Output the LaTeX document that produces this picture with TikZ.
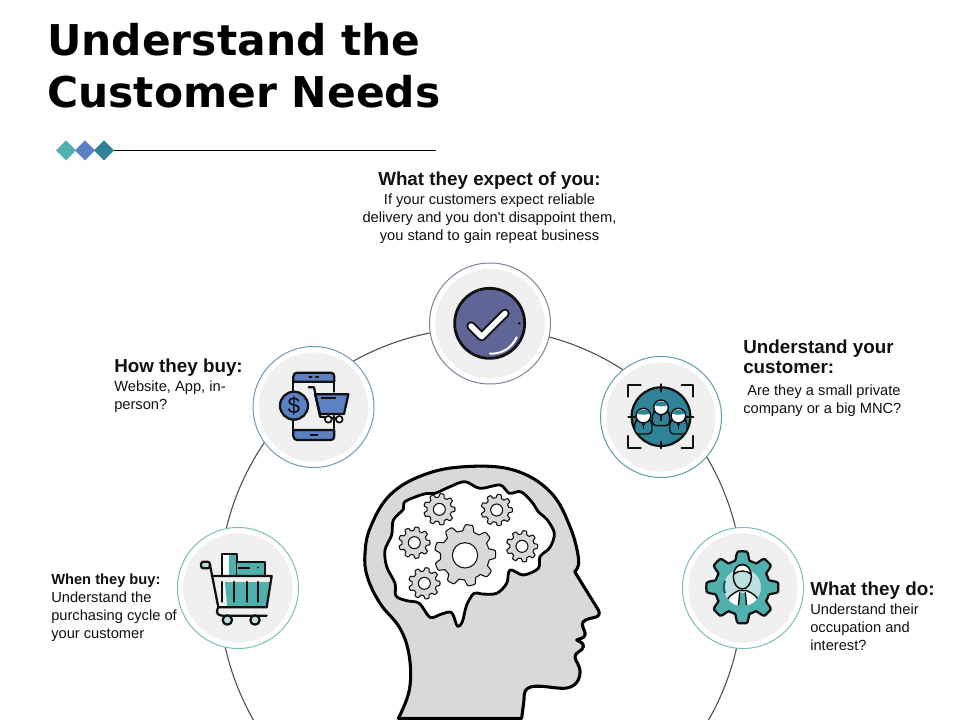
\documentclass[tikz,border=0pt]{standalone}
\usepackage{fontspec}
\setmainfont{Liberation Sans}
\newfontfamily\titlefont{DejaVu Sans}
\definecolor{ink}{HTML}{111111}
\definecolor{teal1}{HTML}{4FB0AE}
\definecolor{teal2}{HTML}{2E8399}
\definecolor{blue1}{HTML}{5B80C4}
\definecolor{navy1}{HTML}{5F6596}
\definecolor{disc}{HTML}{F0F0F0}
\definecolor{headgray}{HTML}{D9D9D9}
\definecolor{paleteal}{HTML}{BFE0E0}
\definecolor{ringA}{HTML}{7F8299}
\definecolor{ringB}{HTML}{6F9AB2}
\definecolor{ringC}{HTML}{5F9FA8}
\definecolor{ringD}{HTML}{7DBDBB}
\tikzset{
 ring/.style={circle,draw=#1,fill=white,line width=.75pt,minimum size=90.75pt,inner sep=0pt},
 innerdisc/.style={circle,fill=disc,minimum size=82pt,inner sep=0pt},
 icon/.style={draw=ink,line width=1.7pt,line join=round,line cap=round},
 thinicon/.style={draw=ink,line width=1.1pt,line join=round,line cap=round},
 blurb/.style={align=left,inner sep=0pt,text=ink,font=\fontsize{11}{13.5}\selectfont},
 titletext/.style={anchor=base west,inner sep=0pt,text=black,font=\titlefont\fontsize{31.8}{40}\selectfont\bfseries},
 outline/.style={draw=black,line width=2.3pt,line join=round},
 gearline/.style={draw=ink,line width=.8pt,fill=headgray,line join=round},
}
\newcommand{\HeadBlock}[1]{{\fontsize{14.1}{15}\selectfont\bfseries #1}}
% cx cy R ratio teeth samples phase style
\newcommand{\gearshape}[8]{\draw[#8] plot[domain=0:360,samples=#6,variable=\ang]
 ({#1+#3*(#4+(1-#4)*(0.5+0.5*max(-1,min(1,2.2*cos(#5*\ang+#7)))))*cos(\ang)},
  {#2+#3*(#4+(1-#4)*(0.5+0.5*max(-1,min(1,2.2*cos(#5*\ang+#7)))))*sin(\ang)}) -- cycle;}
\begin{document}
\begin{tikzpicture}[x=.75pt,y=-.75pt]
\useasboundingbox (0,0) rectangle (960,720);
\fill[white] (0,0) rectangle (960,720);
% title
\node[titletext] (t1) at (47,56) {Understand the};
\node[titletext] (t2) at (47,108) {Customer Needs};
% rule and diamonds
\draw[black,line width=.75pt] (104,150.5) -- (436,150.5);
\fill[teal1] (56,150.5) -- (66,140.5) -- (76,150.5) -- (66,160.5) -- cycle;
\fill[blue1] (75,150.5) -- (85,140.5) -- (95,150.5) -- (85,160.5) -- cycle;
\fill[teal2] (94,150.5) -- (104,140.5) -- (114,150.5) -- (104,160.5) -- cycle;
% big arc
\begin{scope}
\clip (0,0) rectangle (960,720);
\draw[black!70,line width=.8pt] (481,590) circle (262);
\end{scope}
% circles
\node[ring=ringA] (cTop) at (490,323.5) {};
\node[ring=ringB] (cLeft) at (313.5,407) {};
\node[ring=ringC] (cRight) at (661,417) {};
\node[ring=ringD] (cBR) at (743,588) {};
\node[ring=ringD] (cBL) at (238,588) {};
\foreach \c in {cTop,cLeft,cRight,cBR,cBL} \node[innerdisc] at (\c) {};
% check icon
\begin{scope}[shift={(240,260)},x=.25pt,y=-.25pt]
\draw[icon,fill=navy1,line width=2.1pt] (749,190) circle (105);
\draw[ink,line width=7pt,line cap=round,line join=round] (693,198) -- (725,230) -- (795,160);
\draw[white,line width=4pt,line cap=round,line join=round] (693,198) -- (725,230) -- (795,160);
\draw[white,line width=1.5pt,line cap=round] (750,281) .. controls (790,282) and (815,262) .. (830,232);
\fill[ink] (838,190) circle (4);
% phone and cart
\draw[icon,fill=blue1] (160,365) -- (160,350) .. controls (160,342) and (165,338) .. (172,338) -- (272,338) .. controls (279,338) and (283,342) .. (283,350) -- (283,365) -- cycle;
\draw[icon,fill=blue1] (160,510) -- (160,528) .. controls (160,536) and (165,540) .. (172,540) -- (272,540) .. controls (279,540) and (283,536) .. (283,528) -- (283,510) -- cycle;
\draw[icon] (160,365) -- (160,392) (160,482) -- (160,510) (283,365) -- (283,395) (283,468) -- (283,510);
\draw[ink,line width=1.7pt,line cap=round] (208,351) -- (215,351) (228,351) -- (235,351) (212,525) -- (232,525);
\draw[icon,fill=blue1] (162,437) circle (42);
\node[text=ink,inner sep=0pt,font=\fontsize{17}{17}\selectfont] (dollar) at (162,437) {\$};
\draw[icon,fill=blue1] (225,403) -- (325,403) -- (312,462) -- (240,462) -- cycle;
\draw[icon] (206,382) -- (222,382) -- (240,470) -- (305,478);
\draw[ink,line width=1.4pt] (243,413) -- (287,413);
\draw[icon,fill=white,line width=1.3pt] (265,478) circle (10) (298,478) circle (10);
\end{scope}
% team icon
\begin{scope}[shift={(590,350)},x=.25pt,y=-.25pt]
\draw[icon,fill=teal2] (213,200) circle (88);
\draw[icon] (115,140) -- (115,105) -- (152,105) (275,105) -- (310,105) -- (310,140) (115,258) -- (115,293) -- (152,293) (275,293) -- (310,293) -- (310,258);
\draw[icon] (213,103) -- (213,125) (213,275) -- (213,295) (115,200) -- (135,200) (290,200) -- (310,200);
\foreach \px/\py in {160/197,265/197,213/172}{
 \draw[thinicon,fill=teal2,rounded corners=3pt] (\px-26,\py+15) -- (\px-26,\py+55) -- (\px+26,\py+55) -- (\px+26,\py+15) -- (\px+12,\py+10) -- (\px-12,\py+10) -- cycle;
 \draw[thinicon,fill=white] (\px,\py) circle (22);
 \fill[teal2] (\px-20,\py-6) .. controls (\px-14,\py-22) and (\px+14,\py-22) .. (\px+20,\py-6) .. controls (\px+8,\py-2) and (\px-8,\py-2) .. cycle;
 \fill[ink] (\px,\py+26) circle (5);
 \draw[ink,line width=1.1pt] (\px,\py+26) -- (\px,\py+40);
}
% gear-man icon
\gearshape{457}{712}{108}{.76}{8}{161}{0}{icon,fill=teal1}
\draw[paleteal,fill=paleteal] (457,712) circle (55);
\draw[teal2!70!black,line width=1.6pt] (405,730) arc[start angle=160,end angle=200,radius=55];
\begin{scope}
\clip (457,712) circle (56);
\draw[thinicon,fill=white] (405,775) .. controls (410,735) and (430,732) .. (445,722) -- (470,722) .. controls (490,732) and (505,735) .. (510,775) -- cycle;
\fill[teal1] (449,728) -- (466,728) -- (470,775) -- (445,775) -- cycle;
\draw[thinicon] (449,728) -- (445,772) (466,728) -- (470,772);
\end{scope}
\draw[thinicon,fill=paleteal] (457,680) ellipse (27 and 37);
\draw[thinicon,fill=white] (432,672) .. controls (432,635) and (482,635) .. (482,672) .. controls (470,660) and (445,660) .. cycle;
\end{scope}
% cart icon
\begin{scope}[shift={(170,520)},x=.25pt,y=-.25pt]
\draw[icon,fill=white] (155,168) -- (155,102) -- (200,102) -- (200,168);
\fill[teal1] (178,104) rectangle (199,167);
\draw[icon,fill=teal1] (200,125) -- (285,125) -- (285,168) -- (200,168);
\draw[ink,line width=1.3pt] (205,145) -- (240,145);
\fill[ink] (264,143) circle (3);
\fill[teal1] (165,186) -- (300,186) -- (290,262) -- (172,262) -- cycle;
\draw[icon] (125,168) -- (305,168) -- (290,262) -- (145,262);
\draw[icon] (157,186) -- (157,245) (193,186) -- (193,245) (230,186) -- (230,245) (265,186) -- (265,245);
\draw[icon,fill=paleteal,rounded corners=2pt] (93,125) rectangle (120,145);
\draw[icon] (120,135) -- (145,262) .. controls (135,280) and (145,287) .. (158,287) -- (290,287);
\draw[icon,fill=paleteal] (172,300) circle (14) (255,300) circle (14);
\end{scope}
% head
\begin{scope}[shift={(350,470)},x=.25pt,y=-.25pt]
\draw[outline,fill=headgray] plot[smooth,tension=.65] coordinates {(145,745) (178,660) (178,560) (150,475) (90,400) (52,320) (45,250) (62,170) (120,75) (220,15) (345,-10) (490,0) (600,65) (660,170) (686,270) (674,305)}
 -- (745,420) .. controls (752,432) and (745,440) .. (735,442) .. controls (715,446) and (698,450) .. (697,462) .. controls (697,475) and (708,485) .. (705,495) .. controls (703,505) and (690,505) .. (680,510) .. controls (690,515) and (702,520) .. (700,530) .. controls (698,545) and (675,545) .. (675,560) .. controls (675,575) and (692,585) .. (690,610) .. controls (688,640) and (665,655) .. (640,655) .. controls (610,655) and (575,645) .. (545,650) .. controls (525,655) and (522,665) .. (522,690) -- (515,745) -- cycle;
\draw[outline,fill=white,line width=2.1pt] plot[smooth cycle,tension=.55] coordinates {(322,468) (305,428) (275,432) (240,442) (208,400) (170,392) (138,378) (135,340) (110,290) (105,240) (125,195) (130,150) (160,118) (165,95) (222,72) (255,70) (300,50) (345,35) (390,55) (450,45) (478,70) (512,65) (545,95) (565,125) (592,150) (613,190) (600,232) (570,260) (565,295) (520,315) (480,300) (470,340) (440,370) (395,372) (372,370) (350,405) (337,455)};
\gearshape{345}{256}{92}{.8}{9}{181}{20}{gearline}
\draw[gearline,fill=white] (345,256) circle (38);
\foreach \gx/\gy in {268/118,440/120,193/218,516/229,223/340}{
 \gearshape{\gx}{\gy}{47}{.78}{9}{181}{0}{gearline}
 \draw[gearline,fill=white] (\gx,\gy) circle (18);
}
\end{scope}
% texts
\node[blurb,align=center,anchor=north] (tTop) at (489.5,172) {\HeadBlock{What they expect of you:}\\[.7pt]If your customers expect reliable\\delivery and you don\textquotesingle t disappoint them,\\you stand to gain repeat business};
\node[blurb,anchor=north west] (tLeft) at (114,359) {\HeadBlock{How they buy:}\\[.8pt]Website, App, in-\\person?};
\node[blurb,anchor=north west] (tRight) at (743,340) {\HeadBlock{Understand your}\\[1.5pt]\HeadBlock{customer:}\\[3pt]\hspace{3pt}Are they a small private\\company or a big MNC?};
\node[blurb,anchor=north west] (tBR) at (810,582) {\HeadBlock{What they do:}\\[.8pt]Understand their\\occupation and\\interest?};
\node[blurb,anchor=north west] (tBL) at (51,574) {\textbf{When they buy:}\\Understand the\\purchasing cycle of\\your customer};
\end{tikzpicture}
\end{document}
